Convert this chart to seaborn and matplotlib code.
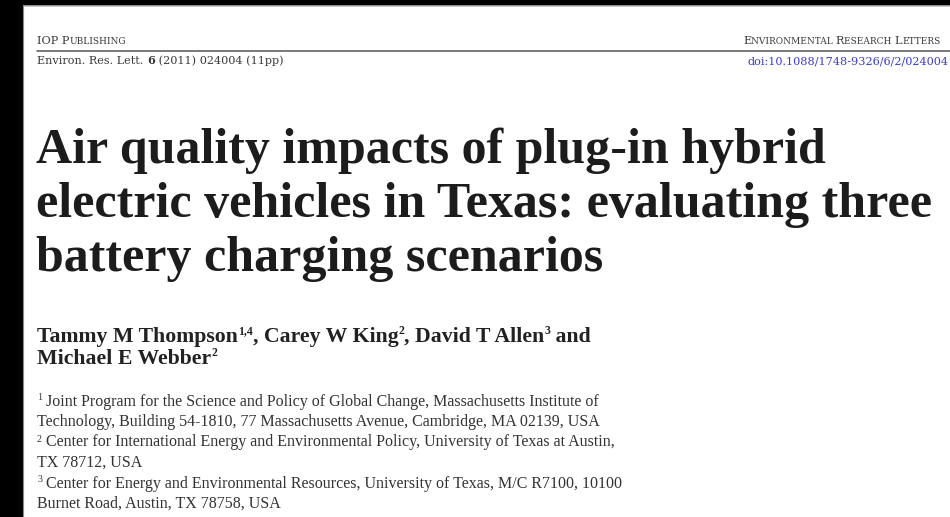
import matplotlib
matplotlib.use("Agg")
import matplotlib.pyplot as plt
from matplotlib.patches import Rectangle
import seaborn as sns

# ---- content (text of the page) ----
header_left_runs = [("IOP P", "big"), ("UBLISHING", "small")]
header_right_runs = [("E", "big"), ("NVIRONMENTAL ", "small"), ("R", "big"),
                     ("ESEARCH ", "small"), ("L", "big"), ("ETTERS", "small")]
citation_runs = [("Environ. Res. Lett. ", "normal"), ("6", "bold"), (" (2011) 024004 (11pp)", "normal")]
doi_text = "doi:10.1088/1748-9326/6/2/024004"
title_lines = ["Air quality impacts of plug-in hybrid",
               "electric vehicles in Texas: evaluating three",
               "battery charging scenarios"]
author_line1 = [("Tammy M Thompson", False), ("1,4", True), (", Carey W King", False), ("2", True),
                (", David T Allen", False), ("3", True), (" and", False)]
author_line2 = [("Michael E Webber", False), ("2", True)]
affiliation_lines = [
    ("1", " Joint Program for the Science and Policy of Global Change, Massachusetts Institute of"),
    ("", "Technology, Building 54-1810, 77 Massachusetts Avenue, Cambridge, MA 02139, USA"),
    ("2", " Center for International Energy and Environmental Policy, University of Texas at Austin,"),
    ("", "TX 78712, USA"),
    ("3", " Center for Energy and Environmental Resources, University of Texas, M/C R7100, 10100"),
    ("", "Burnet Road, Austin, TX 78758, USA"),
]

sns.set_theme(style="white")
plt.rcParams["font.family"] = ["Liberation Serif", "DejaVu Serif"]

W, H = 950, 517
fig = plt.figure(figsize=(W / 100, H / 100), dpi=100, facecolor="white")
ax = fig.add_axes([0, 0, 1, 1])
ax.set_xlim(0, W)
ax.set_ylim(H, 0)
ax.axis("off")

renderer = fig.canvas.get_renderer()


def draw_runs(x, y, runs, family=None):
    """runs: list of (text, fontsize_pt, weight, dy_px, color)"""
    for text, size, weight, dy, color in runs:
        kw = {"family": family} if family else {}
        t = ax.text(x, y + dy, text, fontsize=size, fontweight=weight, color=color,
                    ha="left", va="baseline", **kw)
        bb = t.get_window_extent(renderer=renderer)
        x += bb.width
    return x


# page borders
ax.add_patch(Rectangle((0, 0), 22, H, color="black", zorder=5))
ax.add_patch(Rectangle((0, 0), W, 4.5, color="black", zorder=5))
ax.plot([22.5, 22.5], [4.5, H], color="#888888", lw=0.8, zorder=6)
ax.plot([22.5, W], [5, 5], color="#888888", lw=0.8, zorder=6)

# header (wide serif to match the stretched header lettering)
hfam = ["DejaVu Serif"]
hc = "#3a3a3a"
sizes = {"big": 8.2, "small": 6.5}
draw_runs(37, 44, [(t, sizes[k], "normal", 0, hc) for t, k in header_left_runs], hfam)
draw_runs(743, 44, [(t, sizes[k], "normal", 0, hc) for t, k in header_right_runs], hfam)
ax.plot([37, W], [51, 51], color="#555555", lw=1.1)
draw_runs(37, 64, [(t, 8.15, "bold" if k == "bold" else "normal", 0, hc) for t, k in citation_runs], hfam)
ax.text(W - 1, 64, doi_text, fontsize=8.1, color="#3b3bd0", ha="right", va="baseline",
        family=hfam)

# title
for i, line in enumerate(title_lines):
    ax.text(36, 163 + 54 * i, line, fontsize=36, fontweight="bold", color="#1c1c1c",
            ha="left", va="baseline")

# authors
ac = "#222222"
draw_runs(37, 342, [(t, 8.5 if sup else 15.7, "bold", -7.5 if sup else 0, ac) for t, sup in author_line1])
draw_runs(37, 364, [(t, 8.5 if sup else 15.7, "bold", -7.5 if sup else 0, ac) for t, sup in author_line2])

# affiliations
fc = "#333333"
for i, (sup, line) in enumerate(affiliation_lines):
    y = 405.5 + 20.5 * i
    runs = []
    if sup:
        runs.append((sup, 7.2, "normal", -5, fc))
    runs.append((line, 11.5, "normal", 0, fc))
    draw_runs(37, y, runs)

fig.savefig("out.png", dpi=100, facecolor="white")
